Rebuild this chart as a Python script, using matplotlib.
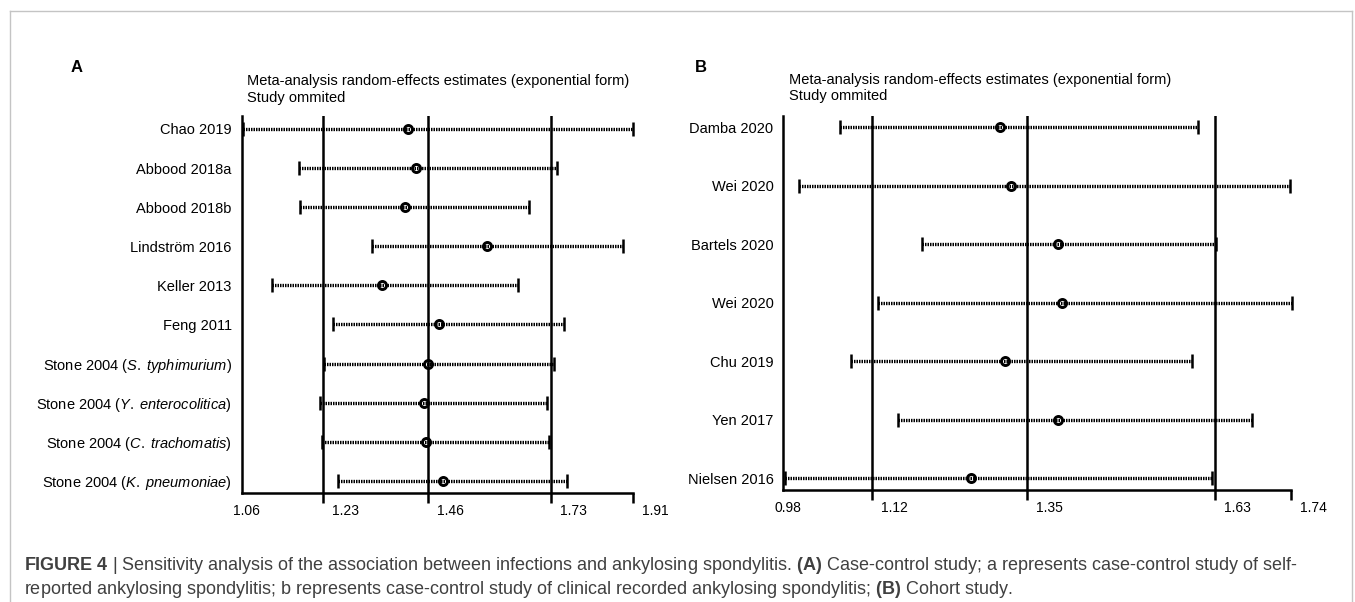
import matplotlib
matplotlib.use('Agg')
import matplotlib.pyplot as plt
import matplotlib.transforms as mtransforms
from matplotlib.lines import Line2D

plt.rcParams['font.family'] = ['Liberation Sans', 'DejaVu Sans']
plt.rcParams['mathtext.fontset'] = 'custom'
plt.rcParams['mathtext.rm'] = 'Liberation Sans'
plt.rcParams['mathtext.it'] = 'Liberation Sans:italic'
plt.rcParams['mathtext.bf'] = 'Liberation Sans:bold'

# Panel A: case-control studies
studies_a = ['Chao 2019', 'Abbood 2018a', 'Abbood 2018b', 'Lindström 2016',
             'Keller 2013', 'Feng 2011',
             r'Stone 2004 ($\mathit{S.\;typhimurium}$)',
             r'Stone 2004 ($\mathit{Y.\;enterocolitica}$)',
             r'Stone 2004 ($\mathit{C.\;trachomatis}$)',
             r'Stone 2004 ($\mathit{K.\;pneumoniae}$)']
est_a = [1.421, 1.438, 1.415, 1.594, 1.366, 1.489, 1.465, 1.456, 1.460, 1.497]
lo_a = [1.063, 1.185, 1.188, 1.343, 1.126, 1.258, 1.240, 1.230, 1.234, 1.269]
hi_a = [1.910, 1.744, 1.684, 1.888, 1.661, 1.760, 1.738, 1.723, 1.727, 1.766]
ref_a = [1.238, 1.464, 1.731]
range_a = (1.06, 1.91)
ticklabels_a = ['1.06', '1.23', '1.46', '1.73', '1.91']

# Panel B: cohort studies
studies_b = ['Damba 2020', 'Wei 2020', 'Bartels 2020', 'Wei 2020',
             'Chu 2019', 'Yen 2017', 'Nielsen 2016']
est_b = [1.305, 1.321, 1.391, 1.397, 1.312, 1.391, 1.261]
lo_b = [1.065, 1.003, 1.188, 1.122, 1.082, 1.152, 0.983]
hi_b = [1.601, 1.739, 1.628, 1.741, 1.592, 1.681, 1.621]
ref_b = [1.113, 1.345, 1.626]
range_b = (0.98, 1.74)
ticklabels_b = ['0.98', '1.12', '1.35', '1.63', '1.74']

header = 'Meta-analysis random-effects estimates (exponential form)\nStudy ommited'

fig = plt.figure(figsize=(13.55, 6.02), dpi=100)


def px(x, y, w, h):
    # figure-pixel box (from top-left) -> figure fraction
    return [x / 1355, 1 - (y + h) / 602, w / 1355, h / 602]


def draw_panel(ax, studies, est, lo, hi, ref, xr, ticklabels, pad_top, pad_bot):
    n = len(studies)
    rows = list(range(n))
    ax.set_xlim(*xr)
    ax.set_ylim(n - 1 + pad_bot, -pad_top)

    for r, e, l, h in zip(rows, est, lo, hi):
        ax.plot([l, h], [r, r], color='black', lw=2.4,
                linestyle=(0, (0.45, 0.3)), solid_capstyle='butt',
                clip_on=False, zorder=3)
        ax.plot([l, h], [r, r], linestyle='none', marker='|', ms=9.5,
                mew=1.8, color='black', clip_on=False, zorder=3)
        ax.plot(e, r, marker='o', ms=5.8, mew=2.1, mfc='none',
                mec='black', clip_on=False, zorder=4)

    for v in ref:
        ax.axvline(v, color='black', lw=1.8, zorder=2)

    for s in ['top', 'right']:
        ax.spines[s].set_visible(False)
    ax.spines['left'].set_linewidth(1.8)
    ax.spines['bottom'].set_linewidth(1.8)

    ticks = [xr[0]] + list(ref) + [xr[1]]
    ax.set_xticks(ticks)
    ax.set_xticklabels(ticklabels)
    ax.tick_params(axis='x', direction='out', length=7.2, width=1.8,
                   pad=1, labelsize=10)
    ax.xaxis.get_major_ticks()[0].tick1line.set_visible(False)
    for i, lab in enumerate(ax.get_xticklabels()):
        dx = -9 / 100 if i == 0 else 9 / 100
        lab.set_horizontalalignment('left')
        lab.set_transform(lab.get_transform() +
                          mtransforms.ScaledTranslation(dx, 0, fig.dpi_scale_trans))

    ax.set_yticks(rows)
    ax.set_yticklabels(studies)
    ax.tick_params(axis='y', length=0, pad=7, labelsize=10.5)


ax_a = fig.add_axes(px(241.5, 116, 391.5, 377))
draw_panel(ax_a, studies_a, est_a, lo_a, hi_a, ref_a, range_a, ticklabels_a, 0.33, 0.31)

ax_b = fig.add_axes(px(783.3, 116, 507.7, 374))
draw_panel(ax_b, studies_b, est_b, lo_b, hi_b, ref_b, range_b, ticklabels_b, 0.19, 0.2)

# panel letters and headers
fig.text(77 / 1355, 1 - 68 / 602, 'A', fontsize=12, fontweight='bold',
         ha='center', va='center')
fig.text(701 / 1355, 1 - 68 / 602, 'B', fontsize=12, fontweight='bold',
         ha='center', va='center')
fig.text(247 / 1355, 1 - 74 / 602, header, fontsize=10.5, ha='left', va='top',
         linespacing=1.25)
fig.text(789 / 1355, 1 - 73 / 602, header, fontsize=10.5, ha='left', va='top',
         linespacing=1.2)

# light frame
frame_c = '#c4c4c4'
for xs, ys in [([9.5, 1352], [10.7, 10.7]), ([9.5, 9.5], [10.7, 602]),
               ([1352, 1352], [10.7, 602])]:
    fig.add_artist(Line2D([x / 1355 for x in xs], [1 - y / 602 for y in ys],
                          color=frame_c, lw=1.0, transform=fig.transFigure))

caption1 = (r'$\mathbf{FIGURE\ 4}$ | Sensitivity analysis of the association between '
            r'infections and ankylosing spondylitis. $\mathbf{(A)}$ Case-control study; '
            r'a represents case-control study of self-')
caption2 = (r'reported ankylosing spondylitis; b represents case-control study of clinical '
            r'recorded ankylosing spondylitis; $\mathbf{(B)}$ Cohort study.')
fig.text(24 / 1355, 1 - 566 / 602, caption1, fontsize=13, color='#404040',
         ha='left', va='center')
fig.text(24 / 1355, 1 - 589 / 602, caption2, fontsize=13, color='#404040',
         ha='left', va='center')

fig.savefig('out.png', dpi=100)
